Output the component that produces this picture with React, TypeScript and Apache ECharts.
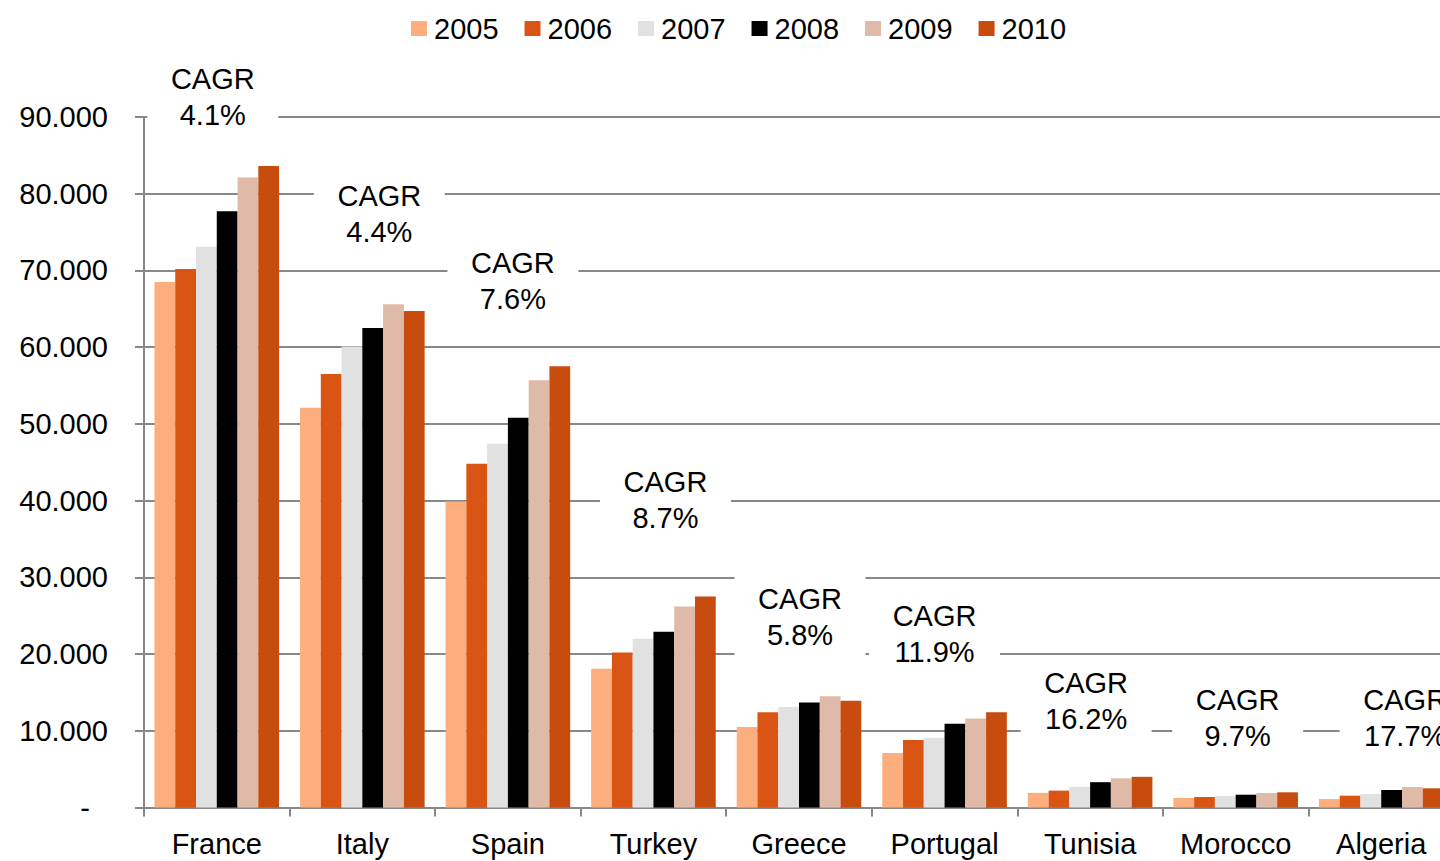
import React, { useEffect, useRef } from "react";
import * as echarts from "echarts";

const countries = ["France", "Italy", "Spain", "Turkey", "Greece", "Portugal", "Tunisia", "Morocco", "Algeria"];
const years = ["2005", "2006", "2007", "2008", "2009", "2010"];
const colors = ["#FCAF7C", "#DA5413", "#E1E1E1", "#000000", "#E0BAA8", "#C84C0E"];

const v2005 = [68500, 52100, 39900, 18100, 10500, 7100, 1900, 1240, 1100];
const v2006 = [70200, 56500, 44800, 20200, 12400, 8800, 2200, 1370, 1540];
const v2007 = [73100, 60100, 47400, 22000, 13100, 9100, 2700, 1500, 1760];
const v2008 = [77700, 62500, 50800, 22900, 13700, 10900, 3300, 1670, 2280];
const v2009 = [82100, 65600, 55700, 26200, 14500, 11600, 3800, 1890, 2670];
const v2010 = [83600, 64700, 57500, 27500, 13900, 12400, 4000, 1980, 2500];
const seriesValues = [v2005, v2006, v2007, v2008, v2009, v2010];

const cagr = ["4.1%", "4.4%", "7.6%", "8.7%", "5.8%", "11.9%", "16.2%", "9.7%", "17.7%"];
// annotation placement (value level of label centre, horizontal nudge in px)
const cagrLabelY = [92600, 77400, 68600, 40100, 24800, 22600, 13900, 11700, 11700];
const cagrLabelDx = [-4, 17, 5, 12, 1, -10, -4, 2, 24];

const yTicks = { min: 0, max: 90000, interval: 10000 };

const FONT = "'Liberation Sans', Arial, sans-serif";
const GRID_COLOR = "#888888";

export default function App() {
  const ref = useRef<HTMLDivElement>(null);
  useEffect(() => {
    if (!ref.current) return;
    const chart = echarts.init(ref.current, null, { renderer: "svg" });
    const barSeries = years.map((y, i) => ({
      name: y,
      type: "bar" as const,
      data: seriesValues[i],
      itemStyle: { color: colors[i] },
      barGap: "0%",
      barCategoryGap: "14.4%",
    }));
    const labelSeries = {
      name: "CAGR",
      type: "scatter" as const,
      symbolSize: 0,
      clip: false,
      z: 10,
      silent: true,
      itemStyle: { opacity: 1, color: "#000" },
      data: cagrLabelY.map((y, i) => ({
        value: [countries[i], y],
        label: { offset: [cagrLabelDx[i], 0] },
      })),
      label: {
        show: true,
        position: "inside",
        opacity: 1,
        formatter: (p: any) => "{t|CAGR\n" + cagr[p.dataIndex] + "}",
        color: "#000000",
        textBorderWidth: 0,
        backgroundColor: "#ffffff",
        width: 131,
        align: "center",
        verticalAlign: "middle",
        padding: [8, 0, 8, 0],
        rich: {
          t: {
            fontFamily: FONT,
            fontSize: 29,
            lineHeight: 36,
            color: "#000000",
            textBorderWidth: 0,
            align: "center",
          },
        },
      },
    };
    chart.setOption({
      animation: false,
      textStyle: { fontFamily: FONT },
      legend: {
        data: years,
        top: 9,
        left: 406,
        itemWidth: 16,
        itemHeight: 15,
        itemGap: 26,
        icon: "rect",
        textStyle: { fontSize: 29, color: "#000", fontFamily: FONT, padding: [0, 0, 0, 2] },
      },
      grid: { left: 144, right: 0, top: 117, bottom: 53.5, containLabel: false },
      xAxis: {
        type: "category",
        data: countries,
        axisLine: { lineStyle: { color: GRID_COLOR, width: 2 } },
        axisTick: { show: true, length: 9, lineStyle: { color: GRID_COLOR, width: 2 } },
        axisLabel: { color: "#000", fontSize: 29, fontFamily: FONT, margin: 22, interval: 0 },
      },
      yAxis: {
        type: "value",
        min: yTicks.min,
        max: yTicks.max,
        interval: yTicks.interval,
        axisLine: { show: true, lineStyle: { color: GRID_COLOR, width: 2 } },
        axisTick: { show: true, length: 9, lineStyle: { color: GRID_COLOR, width: 2 } },
        splitLine: { show: true, lineStyle: { color: GRID_COLOR, width: 2 } },
        axisLabel: {
          color: "#000",
          fontSize: 29,
          fontFamily: FONT,
          margin: 36,
          formatter: (v: number) => (v === 0 ? "{z|-}" : (v / 1000).toFixed(0) + ".000"),
          rich: { z: { fontSize: 29, color: "#000", fontFamily: FONT, padding: [0, 18, 0, 0] } },
        },
      },
      series: [...barSeries, labelSeries],
    });
    return () => chart.dispose();
  }, []);
  return (
    <div style={{ position: "fixed", left: 0, top: 0, width: 1440, height: 861, overflow: "hidden", background: "#fff" }}>
      <div ref={ref} style={{ width: 1454, height: 861 }} />
    </div>
  );
}
